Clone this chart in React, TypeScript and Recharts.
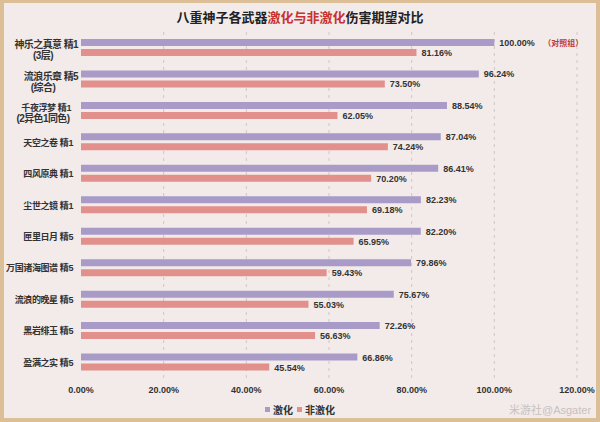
import React from 'react';
import { BarChart, Bar, XAxis, YAxis, CartesianGrid, LabelList, Legend } from 'recharts';

const names = [
  ['神乐之真意 精1', '(3层)'],
  ['流浪乐章 精5', '(综合)'],
  ['千夜浮梦 精1', '(2异色1同色)'],
  ['天空之卷 精1'],
  ['四风原典 精1'],
  ['尘世之镜 精1'],
  ['匣里日月 精5'],
  ['万国诸海图谱 精5'],
  ['流浪的晚星 精5'],
  ['黑岩绯玉 精5'],
  ['盈满之实 精5'],
];
const quicken = [100.0, 96.24, 88.54, 87.04, 86.41, 82.23, 82.2, 79.86, 75.67, 72.26, 66.86];
const nonQuicken = [81.16, 73.5, 62.05, 74.24, 70.2, 69.18, 65.95, 59.43, 55.03, 56.63, 45.54];
const xTicks = [0, 20, 40, 60, 80, 100, 120];
const seriesNames = ['激化', '非激化'];
const controlNote = '（对照组）';

const data = names.map((n, i) => ({
  name: n.join('|'),
  jh: quicken[i],
  fjh: nonQuicken[i],
}));

const PURPLE = '#a99bc7';
const RED = '#e1908b';
const FONT = '"Liberation Sans", "Noto Sans CJK SC", sans-serif';

const YTick = (props: any) => {
  const { x, y, payload, index } = props;
  const lines: string[] = String(payload.value).split('|');
  if (lines.length === 1) {
    return (
      <text x={x} y={y} dy={3.5} textAnchor="end" fontSize={9} letterSpacing={-0.4} fontWeight={700} fill="#333" fontFamily={FONT}>
        {lines[0]}
      </text>
    );
  }
  const wide = index !== 2;
  return (
    <g>
      <text
        x={wide ? x + 5 : x - 2}
        y={y - 3}
        dy={3.5}
        textAnchor="end"
        fontSize={wide ? 10 : 9}
        letterSpacing={wide ? -0.6 : -0.4}
        fontWeight={700}
        fill="#333"
        fontFamily={FONT}
      >
        {lines[0]}
      </text>
      <text x={x - 30} y={y + 8} dy={3.5} textAnchor="middle" fontSize={10} letterSpacing={-0.6} fontWeight={700} fill="#333" fontFamily={FONT}>
        {lines[1]}
      </text>
    </g>
  );
};

const XTick = (props: any) => {
  const { x, y, payload } = props;
  return (
    <text x={x} y={y} dy={8} textAnchor="middle" fontSize={9} fontWeight={700} fill="#333" fontFamily={FONT}>
      {Number(payload.value).toFixed(2) + '%'}
    </text>
  );
};

const makeLabel = (withNote: boolean) => (props: any) => {
  const { x, y, width, height, value, index } = props;
  const tx = x + width + 5;
  const ty = y + height / 2 + 3.5;
  return (
    <g>
      <text x={tx} y={ty} fontSize={9} fill="#333" fontFamily={FONT} fontWeight={600}>
        {Number(value).toFixed(2) + '%'}
      </text>
      {withNote && index === 0 ? (
        <text x={tx + 44} y={ty} fontSize={8} fill="#c0392b" fontFamily={FONT} fontWeight={700}>
          {controlNote}
        </text>
      ) : null}
    </g>
  );
};

const LegendContent = () => (
  <div style={{ display: 'flex', justifyContent: 'center', alignItems: 'center', fontFamily: FONT, fontSize: 10, fontWeight: 700, color: '#333' }}>
    <span style={{ display: 'inline-block', width: 5, height: 5, background: PURPLE, marginRight: 3 }} />
    <span style={{ marginRight: 4 }}>{seriesNames[0]}</span>
    <span style={{ display: 'inline-block', width: 5, height: 5, background: RED, marginRight: 3 }} />
    <span>{seriesNames[1]}</span>
  </div>
);

export default function App() {
  return (
    <div style={{ position: 'absolute', left: 0, top: 0, width: 600, height: 422 }}>
      <div
        style={{
          position: 'absolute', left: 0, top: 0, width: 600, height: 422, boxSizing: 'border-box',
          background: '#f3ebe9', borderStyle: 'solid', borderColor: '#dcbf96',
          borderWidth: '3px 4px 4px 4px',
        }}
      />
      <div style={{ position: 'absolute', left: 0, top: 7, width: 600, textAlign: 'center', fontFamily: FONT, fontSize: 13, fontWeight: 700, color: '#222' }}>
        八重神子各武器<span style={{ color: '#c8312f' }}>激化与非激化</span>伤害期望对比
      </div>
      <div style={{ position: 'absolute', left: 0, top: 0 }}>
        <BarChart
          width={600}
          height={422}
          data={data}
          layout="vertical"
          margin={{ top: 32, right: 23, bottom: 24, left: 8 }}
          barGap={3}
        >
          <CartesianGrid
            horizontal={false}
            stroke="#cfc6c6"
            strokeDasharray="3 4"
            verticalCoordinatesGenerator={({ offset }: any) =>
              xTicks.slice(1).map((v) => offset.left + (offset.width * v) / 120)
            }
          />
          <XAxis
            type="number"
            domain={[0, 120]}
            ticks={xTicks}
            axisLine={false}
            tickLine={false}
            height={20}
            tick={<XTick />}
            tickMargin={1}
            interval={0}
          />
          <YAxis
            type="category"
            dataKey="name"
            width={73}
            axisLine={false}
            tickLine={false}
            tick={<YTick />}
            interval={0}
          />
          <Legend
            layout="horizontal"
            verticalAlign="middle"
            align="center"
            content={<LegendContent />}
            wrapperStyle={{ top: 402, left: 0, width: 600 }}
          />
          <Bar dataKey="jh" name={seriesNames[0]} fill={PURPLE} barSize={7} isAnimationActive={false}>
            <LabelList dataKey="jh" content={makeLabel(true)} />
          </Bar>
          <Bar dataKey="fjh" name={seriesNames[1]} fill={RED} barSize={7} isAnimationActive={false}>
            <LabelList dataKey="fjh" content={makeLabel(false)} />
          </Bar>
        </BarChart>
      </div>
      <div style={{ position: 'absolute', left: 509, top: 401, fontFamily: FONT, fontSize: 11, color: '#c8c0c0', whiteSpace: 'nowrap' }}>
        米游社@Asgater
      </div>
    </div>
  );
}
